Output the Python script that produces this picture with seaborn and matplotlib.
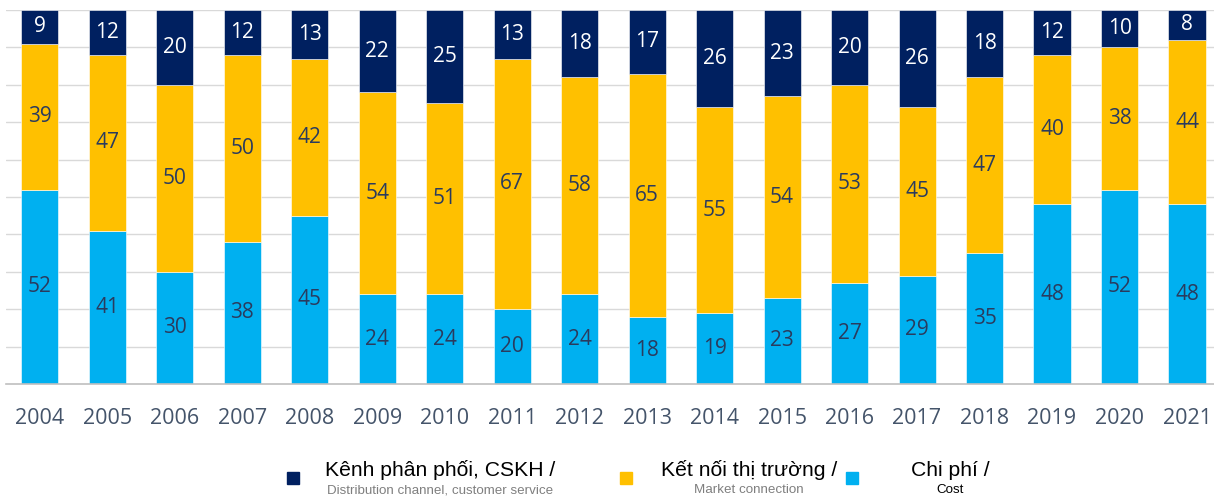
import matplotlib
matplotlib.use("Agg")
import matplotlib.pyplot as plt
import numpy as np
import seaborn as sns

years = [str(y) for y in range(2004, 2022)]
cost = [52, 41, 30, 38, 45, 24, 24, 20, 24, 18, 19, 23, 27, 29, 35, 48, 52, 48]
market = [39, 47, 50, 50, 42, 54, 51, 67, 58, 65, 55, 54, 53, 45, 47, 40, 38, 44]
distribution = [9, 12, 20, 12, 13, 22, 25, 13, 18, 17, 26, 23, 20, 26, 18, 12, 10, 8]

legend_main = ["Kênh phân phối, CSKH /", "Kết nối thị trường /", "Chi phí /"]
legend_sub = ["Distribution channel, customer service", "Market connection", "Cost"]

NAVY = "#002060"
YELLOW = "#FFC000"
CYAN = "#00B0F0"
DARK_TXT = "#2A3B5E"
TICK_TXT = "#44546A"

sns.set_style("white")
plt.rcParams["font.family"] = ["Open Sans", "DejaVu Sans"]

fig = plt.figure(figsize=(12.14, 4.98), dpi=100)
ax = fig.add_axes([6 / 1214, 1 - 384 / 498, 1 - 6 / 1214, 374 / 498])

cost_arr = np.array(cost)
market_arr = np.array(market)
series = [
    (cost_arr, np.zeros(len(cost)), CYAN, DARK_TXT),
    (market_arr, cost_arr, YELLOW, DARK_TXT),
    (np.array(distribution), cost_arr + market_arr, NAVY, "white"),
]

for vals, bottom, color, txt in series:
    sns.barplot(x=years, y=vals, bottom=bottom, color=color, saturation=1,
                width=0.55, edgecolor="white", linewidth=0.4, ax=ax)
    cont = ax.containers[-1]
    ax.bar_label(cont, labels=[str(v) for v in vals], label_type="center",
                 color=txt, fontsize=15)

ax.set_ylim(0, 100)
ax.set_xlim(-0.5, 17.4)
ax.set_yticks(np.arange(10, 101, 10))
ax.yaxis.grid(True, color="#D9D9D9", linewidth=1)
ax.set_axisbelow(True)
ax.tick_params(axis="y", left=False, labelleft=False)
ax.tick_params(axis="x", bottom=False, labelsize=15.5, labelcolor=TICK_TXT, pad=14)
ax.set_xlabel("")
ax.set_ylabel("")
for s in ["top", "right", "left"]:
    ax.spines[s].set_visible(False)
ax.spines["bottom"].set_color("#BFBFBF")
ax.spines["bottom"].set_linewidth(1.2)

# legend
marker_x = [293, 626, 852]
text_x = [440, 749, 950]
colors = [NAVY, YELLOW, CYAN]
sub_colors = ["#7F7F7F", "#7F7F7F", "#000000"]
for mx, tx, c, main, sub, sc in zip(marker_x, text_x, colors, legend_main, legend_sub, sub_colors):
    fig.patches.append(plt.Rectangle(((mx - 6) / 1214, 1 - 484 / 498), 12 / 1214, 12 / 498,
                                     transform=fig.transFigure, color=c))
    fig.text(tx / 1214, 1 - 470 / 498, main, ha="center", va="center",
             fontsize=15.2, family=["Liberation Sans", "DejaVu Sans"], color="#000000")
    fig.text(tx / 1214, 1 - 490 / 498, sub, ha="center", va="center",
             fontsize=9.6, family=["Liberation Sans", "DejaVu Sans"], color=sc)

fig.savefig("out.png", dpi=100)
